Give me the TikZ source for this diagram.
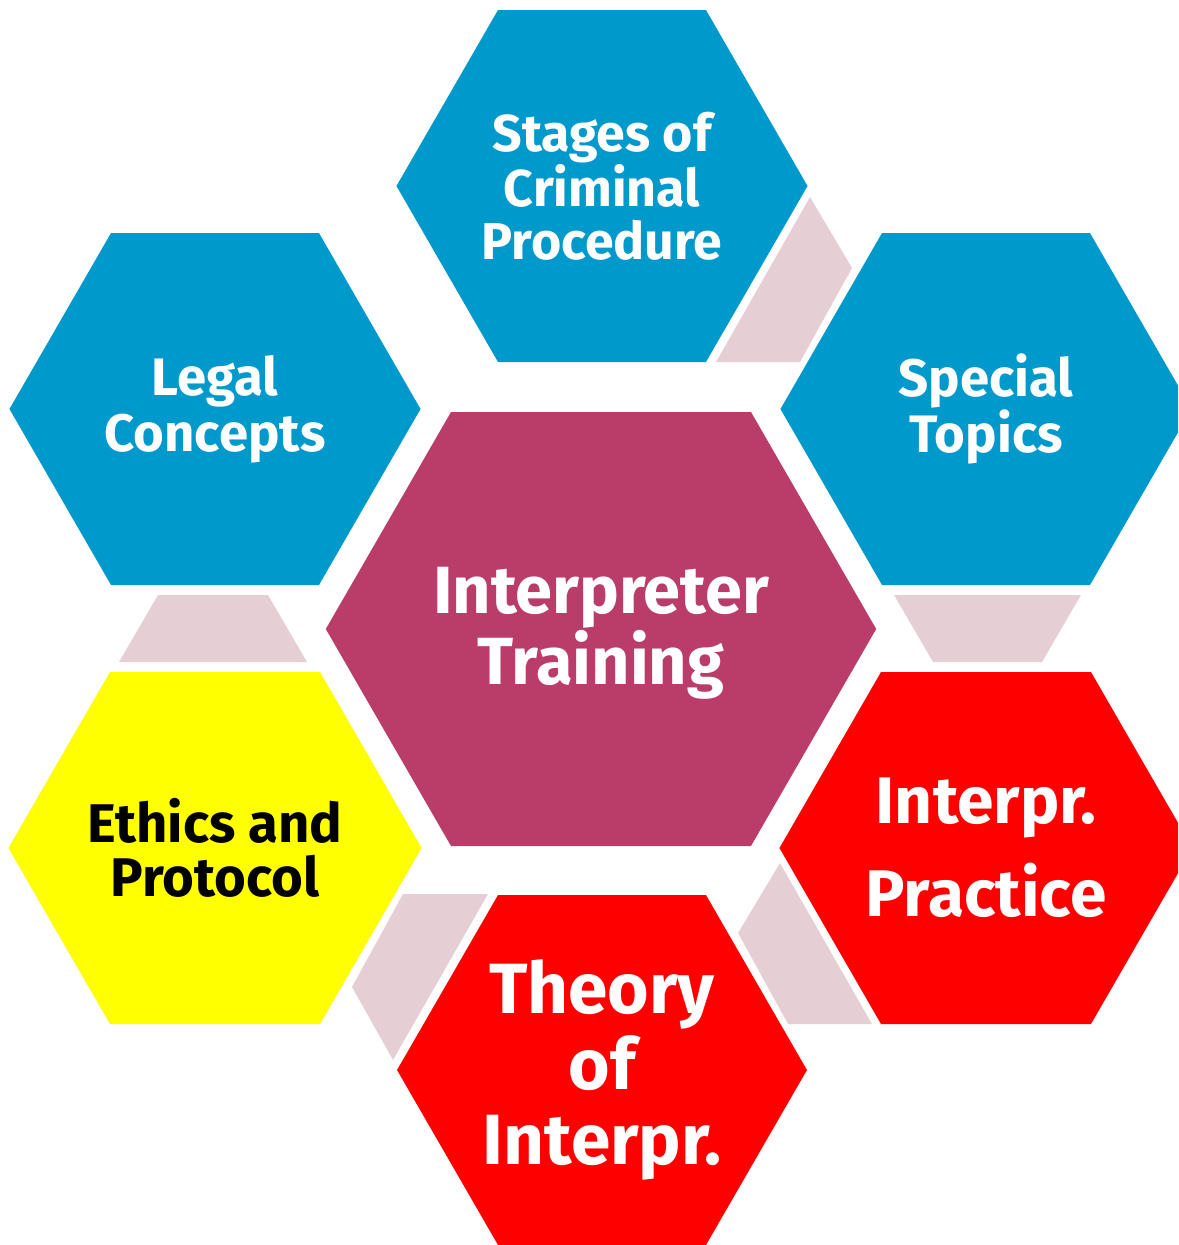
\documentclass[tikz,border=0pt]{standalone}
\usepackage{fontspec}
\setmainfont{Fira Sans}
\usetikzlibrary{calc}

\definecolor{cellblue}{HTML}{0099CC}
\definecolor{cellrose}{HTML}{B93D68}
\definecolor{cellred}{HTML}{FF0000}
\definecolor{cellyellow}{HTML}{FFFF00}
\definecolor{linkpink}{HTML}{E6CED5}

\tikzset{
  hexlabel/.style={align=center, text=white, inner sep=0pt},
  link/.style={fill=linkpink},
}

% flat-topped hexagon: #1 centre, #2 half top width, #3 half height, #4 colour
\newcommand{\hexcell}[4]{%
  \fill[#4] ($(#1)+(-#2-#3*0.577,0)$) -- ($(#1)+(-#2,-#3)$) -- ($(#1)+(#2,-#3)$)
    -- ($(#1)+(#2+#3*0.577,0)$) -- ($(#1)+(#2,#3)$) -- ($(#1)+(-#2,#3)$) -- cycle;}

\begin{document}
\begin{tikzpicture}[x=0.02cm, y=-0.02cm]
  \useasboundingbox (0,0) rectangle (1178,1245);
  \clip (0,0) rectangle (1178,1245);

  % centres of the cells
  \coordinate (c-core) at (601,629);
  \coordinate (c-stages) at (602,186);
  \coordinate (c-legal) at (215,409);
  \coordinate (c-special) at (986,409);
  \coordinate (c-ethics) at (215,848);
  \coordinate (c-practice) at (986,848);
  \coordinate (c-theory) at (602,1070);

  % pink links between the outer cells
  \fill[link] (810,197) -- (852,268) -- (800,362) -- (716,362) -- cycle;
  \fill[link] (158,595) -- (268,595) -- (307,662) -- (119,662) -- cycle;
  \fill[link] (894,595) -- (1081,595) -- (1042,662) -- (933,662) -- cycle;
  \fill[link] (403,894) -- (488,894) -- (393,1060) -- (352,987) -- cycle;
  \fill[link] (780,863) -- (872,1024) -- (788,1024) -- (738,933) -- cycle;

  % the cells
  \hexcell{c-core}{150}{217}{cellrose}
  \hexcell{c-stages}{104}{176}{cellblue}
  \hexcell{c-legal}{104}{176}{cellblue}
  \hexcell{c-special}{104}{176}{cellblue}
  \hexcell{c-ethics}{105}{176}{cellyellow}
  \hexcell{c-practice}{105}{176}{cellred}
  \hexcell{c-theory}{104}{175}{cellred}

  % labels
  \node[hexlabel, font=\bfseries\fontsize{38}{38}\selectfont] (core) at (601,633) {Interpreter\\Training};
  \node[hexlabel, font=\bfseries\fontsize{29.5}{30}\selectfont] (stages) at (c-stages) {Stages of\\Criminal\\Procedure};
  \node[hexlabel, font=\bfseries\fontsize{30}{32}\selectfont] (legal) at (c-legal) {Legal\\Concepts};
  \node[hexlabel, font=\bfseries\fontsize{30}{32}\selectfont] (special) at (c-special) {Special\\Topics};
  \node[hexlabel, text=black, font=\bfseries\fontsize{31}{31}\selectfont] (ethics) at (c-ethics) {Ethics and\\Protocol};
  \node[hexlabel, font=\bfseries\fontsize{37.5}{53}\selectfont] (practice) at (c-practice) {Interpr.\\Practice};
  \node[hexlabel, font=\bfseries\fontsize{40.5}{43}\selectfont] (theory) at (c-theory) {Theory\\of\\Interpr.};
\end{tikzpicture}
\end{document}
